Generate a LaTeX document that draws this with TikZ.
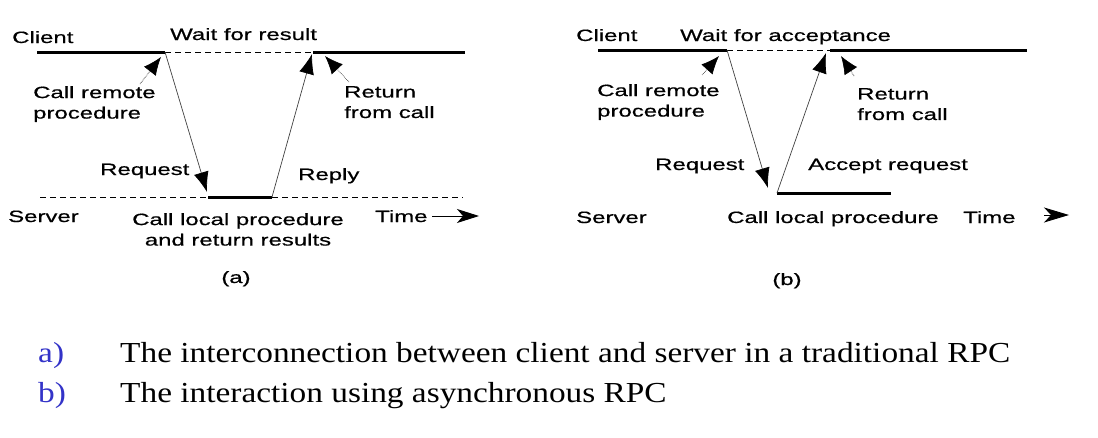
\documentclass[tikz,border=0pt]{standalone}
\usepackage{fontspec}
\setmainfont[FakeStretch=1.15]{Liberation Serif}
\newfontfamily\diagfont[FakeStretch=1.46,FakeBold=0.6]{Liberation Sans}
\usetikzlibrary{arrows.meta}
\definecolor{itemblue}{RGB}{51,51,200}

\begin{document}
\begin{tikzpicture}[x=1pt,y=-1pt,
    every node/.style={inner sep=0pt,font=\diagfont\fontsize{16.4}{20.5}\selectfont},
    lbl/.style={anchor=base west},
    timeline/.style={line width=3pt},
    idle/.style={dash pattern=on 6pt off 4pt,line width=0.7pt},
    msg/.style={line width=0.7pt,draw=black!75,-{Latex[length=20pt,width=15pt,black]}},
    pointer/.style={densely dotted,line width=0.6pt,-{Latex[length=18pt,width=15pt,black]}},
    caption/.style={anchor=base west,font=\fontsize{29}{34}\selectfont}]
    \useasboundingbox (0,0) rectangle (1098,437);

    % (a) traditional RPC
    \coordinate (ca1) at (37,52);   \coordinate (ca2) at (165,52);
    \coordinate (ca3) at (313,52);  \coordinate (ca4) at (465,52);
    \coordinate (sa1) at (40,197);  \coordinate (sa2) at (208,197);
    \coordinate (sa3) at (272,197); \coordinate (sa4) at (463,197);
    \draw[timeline] (ca1) -- (ca2);
    \draw[idle] (ca2) -- (ca3);
    \draw[timeline] (ca3) -- (ca4);
    \draw[idle] (sa1) -- (sa2);
    \draw[timeline] (sa2) -- (sa3);
    \draw[idle] (sa3) -- (sa4);
    \draw[msg] (ca2) -- (207,192);
    \draw[msg] (sa3) -- (312,54);
    \coordinate (pa1) at (140,84);  \coordinate (pa2) at (161,57);
    \coordinate (pa3) at (349,82);  \coordinate (pa4) at (325,56);
    \draw[pointer] (pa1) -- (pa2);
    \draw[pointer] (pa3) -- (pa4);

    \node[lbl] (clienta) at (12,43) {Client};
    \node[lbl] (waita) at (170,40) {Wait for result};
    \node[anchor=north west,align=left] (calla) at (33,86) {Call remote\\procedure};
    \node[anchor=north west,align=left] (returna) at (344,86) {Return\\from call};
    \node[lbl] (reqa) at (100,175) {Request};
    \node[lbl] (replya) at (298,180) {Reply};
    \node[lbl] (servera) at (8,222) {Server};
    \node[anchor=north,align=center] (locala) at (238,213) {Call local procedure\\and return results};
    \node[lbl] (timea) at (375,222) {Time};
    \coordinate (ta1) at (432,216); \coordinate (ta2) at (479,216);
    \draw[line width=0.9pt,-{Stealth[length=22pt,width=14pt,inset=6pt]}] (ta1) -- (ta2);
    \node[anchor=base] (laba) at (236,283) {(a)};

    % (b) asynchronous RPC
    \coordinate (cb1) at (598,50);  \coordinate (cb2) at (727,50);
    \coordinate (cb3) at (830,50);  \coordinate (cb4) at (1027,50);
    \coordinate (sb1) at (777,193); \coordinate (sb2) at (891,193);
    \draw[timeline] (cb1) -- (cb2);
    \draw[idle] (cb2) -- (cb3);
    \draw[timeline] (cb3) -- (cb4);
    \draw[timeline] (sb1) -- (sb2);
    \draw[msg] (cb2) -- (768,188);
    \draw[msg] (sb1) -- (826,53);
    \coordinate (pb1) at (702,75);  \coordinate (pb2) at (719,56);
    \coordinate (pb3) at (854,76);  \coordinate (pb4) at (841,56);
    \draw[pointer] (pb1) -- (pb2);
    \draw[pointer] (pb3) -- (pb4);

    \node[lbl] (clientb) at (576,41) {Client};
    \node[lbl] (waitb) at (680,41) {Wait for acceptance};
    \node[anchor=north west,align=left] (callb) at (597,84) {Call remote\\procedure};
    \node[anchor=north west,align=left] (returnb) at (857,88) {Return\\from call};
    \node[lbl] (reqb) at (655,170) {Request};
    \node[lbl] (acceptb) at (808,170) {Accept request};
    \node[lbl] (serverb) at (576,223) {Server};
    \node[lbl] (localb) at (727,223) {Call local procedure};
    \node[lbl] (timeb) at (963,223) {Time};
    \coordinate (tb1) at (1044,215); \coordinate (tb2) at (1069,215);
    \draw[line width=0.9pt,-{Stealth[length=25pt,width=15pt,inset=7pt]}] (tb1) -- (tb2);
    \node[anchor=base] (labb) at (787,285) {(b)};

    % captions
    \node[caption,text=itemblue] (itema) at (38,362) {a)};
    \node[caption] (texta) at (120,362) {The interconnection between client and server in a traditional RPC};
    \node[caption,text=itemblue] (itemb) at (38,402) {b)};
    \node[caption] (textb) at (120,402) {The interaction using asynchronous RPC};
\end{tikzpicture}
\end{document}
